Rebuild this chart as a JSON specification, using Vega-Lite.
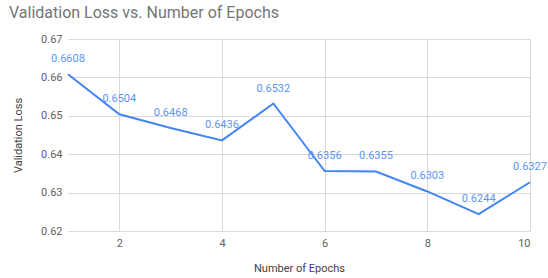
{
  "$schema": "https://vega.github.io/schema/vega-lite/v6.json",
  "width": 462,
  "height": 192,
  "autosize": {"type": "none"},
  "padding": {"left": 68, "top": 39, "right": 18, "bottom": 47},
  "background": "white",
  "config": {
    "font": "Roboto",
    "view": {"stroke": null},
    "axis": {"gridColor": "#d9d9d9", "domain": false, "ticks": false, "labelColor": "#616161", "titleColor": "#424242", "labelFontSize": 11, "titleFontSize": 11, "titleFontWeight": "normal"}
  },
  "title": {"text": "Validation Loss vs. Number of Epochs", "anchor": "start", "frame": "group", "dx": -59, "offset": 12, "fontSize": 16, "fontWeight": "normal", "color": "#757575", "font": "Roboto"},
  "data": {"values": [
    {"epoch": 1, "loss": 0.6608},
    {"epoch": 2, "loss": 0.6504},
    {"epoch": 3, "loss": 0.6468},
    {"epoch": 4, "loss": 0.6436},
    {"epoch": 5, "loss": 0.6532},
    {"epoch": 6, "loss": 0.6356},
    {"epoch": 7, "loss": 0.6355},
    {"epoch": 8, "loss": 0.6303},
    {"epoch": 9, "loss": 0.6244},
    {"epoch": 10, "loss": 0.6327}
  ]},
  "encoding": {
    "x": {"field": "epoch", "type": "quantitative", "scale": {"domain": [1, 10], "nice": false, "zero": false},
      "axis": {"values": [2, 4, 6, 8, 10], "title": "Number of Epochs", "labelPadding": 6, "titlePadding": 14, "grid": true}},
    "y": {"field": "loss", "type": "quantitative", "scale": {"domain": [0.62, 0.67], "nice": false, "zero": false},
      "axis": {"values": [0.62, 0.63, 0.64, 0.65, 0.66, 0.67], "format": ".2f", "title": "Validation Loss", "labelPadding": 6, "titlePadding": 17}}
  },
  "layer": [
    {"mark": {"type": "line", "color": "#4285F4", "strokeWidth": 2}},
    {"mark": {"type": "text", "color": "#5B95F5", "fontSize": 11, "baseline": "bottom", "dy": -10},
     "encoding": {"text": {"field": "loss", "type": "quantitative", "format": ".4f"}}}
  ]
}
